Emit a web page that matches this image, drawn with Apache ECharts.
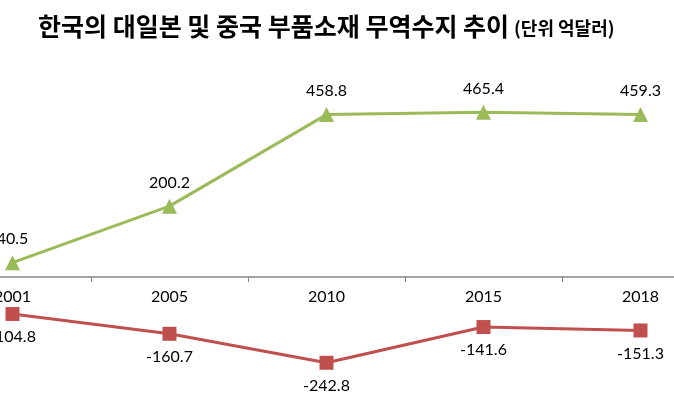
<!DOCTYPE html>
<html>
<head>
<meta charset="utf-8">
<script src="https://cdn.jsdelivr.net/npm/echarts@6/dist/echarts.min.js"></script>
<style>
  html, body { margin: 0; padding: 0; background: #fff; }
  #chart { width: 674px; height: 404px; }
</style>
</head>
<body>
<div id="chart"></div>
<script>
// 연도
const years = ['2001', '2005', '2010', '2015', '2018'];
// 대중국 부품소재 무역수지 (억달러)
const chinaBalance = [40.5, 200.2, 458.8, 465.4, 459.3];
// 대일본 부품소재 무역수지 (억달러)
const japanBalance = [-104.8, -160.7, -242.8, -141.6, -151.3];

const chart = echarts.init(document.getElementById('chart'));
const labelFont = 'Lato, "Noto Sans", sans-serif';

// 위쪽(양수)과 아래쪽(음수) 두 그리드로 나눠서 0 기준선에 축 라벨을 둠
chart.setOption({
  backgroundColor: '#ffffff',
  animation: false,
  title: {
    text: '{a|한국의 대일본 및 중국 부품소재 무역수지 추이} {b|(단위 억달러)}',
    left: 33,
    top: 9,
    textStyle: {
      rich: {
        a: { fontFamily: '"Noto Sans CJK KR"', fontWeight: 'bold', fontSize: 25, color: '#000' },
        b: { fontFamily: '"Noto Sans CJK KR"', fontWeight: 'bold', fontSize: 18, color: '#000', padding: [4, 0, 0, 0] }
      }
    }
  },
  grid: [
    { left: -66, width: 785, top: 100, height: 177, outerBoundsMode: 'none', containLabel: false },
    { left: -66, width: 785, top: 277, height: 106, outerBoundsMode: 'none', containLabel: false }
  ],
  xAxis: [
    {
      type: 'category',
      gridIndex: 0,
      data: years,
      boundaryGap: true,
      axisLine: { lineStyle: { color: '#868686', width: 1.5 } },
      axisTick: { show: true, length: 5, lineStyle: { color: '#868686' } },
      axisLabel: { color: '#000', fontSize: 16, fontFamily: labelFont, margin: 12 }
    },
    {
      type: 'category',
      gridIndex: 1,
      data: years,
      boundaryGap: true,
      show: false
    }
  ],
  yAxis: [
    { type: 'value', gridIndex: 0, min: 0, max: 500, show: false, splitLine: { show: false } },
    { type: 'value', gridIndex: 1, min: -300, max: 0, show: false, splitLine: { show: false } }
  ],
  series: [
    {
      name: '중국',
      type: 'line',
      xAxisIndex: 0,
      yAxisIndex: 0,
      data: chinaBalance,
      symbol: 'triangle',
      symbolSize: 15,
      clip: false,
      lineStyle: { color: '#9BBB59', width: 3 },
      itemStyle: { color: '#9BBB59' },
      label: { show: true, position: 'top', distance: 8, color: '#000', fontSize: 16, fontFamily: labelFont }
    },
    {
      name: '일본',
      type: 'line',
      xAxisIndex: 1,
      yAxisIndex: 1,
      data: japanBalance,
      symbol: 'rect',
      symbolSize: 14,
      clip: false,
      lineStyle: { color: '#C0504D', width: 3 },
      itemStyle: { color: '#C0504D' },
      label: { show: true, position: 'bottom', distance: 8, color: '#000', fontSize: 16, fontFamily: labelFont }
    }
  ]
});
</script>
</body>
</html>
